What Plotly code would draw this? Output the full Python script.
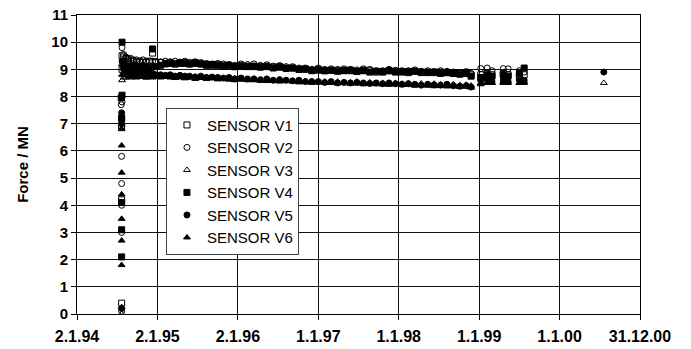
import plotly.graph_objects as go

# ---- data (decimal years, force in MN) ----
tick_years = [1994, 1995, 1996, 1997, 1998, 1999, 2000, 2001]
tick_labels = ["2.1.94", "2.1.95", "2.1.96", "1.1.97", "1.1.98", "1.1.99", "1.1.00", "31.12.00"]

T_main = [1994.58, 1994.61, 1994.64, 1994.67, 1994.70, 1994.74, 1994.78, 1994.82, 1994.86, 1994.90, 1994.94, 1994.98,
          1995.04, 1995.10, 1995.16, 1995.22, 1995.28, 1995.34, 1995.40, 1995.47, 1995.54, 1995.61, 1995.68, 1995.75, 1995.82, 1995.89, 1995.96,
          1996.04, 1996.12, 1996.20, 1996.28, 1996.36, 1996.44, 1996.52, 1996.60, 1996.68, 1996.76, 1996.84, 1996.92,
          1997.00, 1997.08, 1997.16, 1997.24, 1997.32, 1997.40, 1997.48, 1997.56, 1997.64, 1997.72, 1997.80, 1997.88, 1997.96,
          1998.04, 1998.12, 1998.20, 1998.28, 1998.36, 1998.44, 1998.52, 1998.60, 1998.68, 1998.76, 1998.84, 1998.90]
T_late = [1999.02, 1999.10, 1999.16, 1999.30, 1999.36, 1999.50, 1999.56]

# initial load-up (all at the same installation date)
rise_v1_t = [1994.555, 1994.555, 1994.555, 1994.555, 1994.56, 1994.56]
rise_v1 = [0.4, 4.2, 6.9, 7.2, 9.0, 9.5]
rise_v2_t = [1994.555, 1994.555, 1994.555, 1994.555, 1994.555, 1994.555, 1994.55, 1994.56, 1994.56]
rise_v2 = [0.1, 3.0, 4.0, 4.8, 5.8, 6.9, 7.7, 7.8, 9.8]
rise_v3_t = [1994.555, 1994.555, 1994.56, 1994.56]
rise_v3 = [0.0, 7.0, 8.6, 9.2]
rise_v4_t = [1994.555, 1994.555, 1994.555, 1994.555, 1994.55, 1994.56, 1994.56]
rise_v4 = [2.1, 3.1, 4.1, 7.2, 7.95, 8.05, 10.0]
rise_v5_t = [1994.555, 1994.555, 1994.555, 1994.56]
rise_v5 = [0.2, 7.0, 7.4, 9.3]
rise_v6_t = [1994.555, 1994.555, 1994.555, 1994.555, 1994.555, 1994.555, 1994.555, 1994.555, 1994.56]
rise_v6 = [0.25, 1.8, 2.7, 3.5, 4.4, 5.2, 6.2, 6.8, 8.8]

v1 = [9.45, 9.4, 9.35, 9.3, 9.3, 9.25, 9.3, 9.25, 9.25, 9.3, 9.6, 9.25,
      9.25, 9.22, 9.25, 9.2, 9.22, 9.25, 9.2, 9.22, 9.2, 9.18, 9.15, 9.17, 9.15, 9.12, 9.1,
      9.15, 9.12, 9.1, 9.1, 9.12, 9.08, 9.1, 9.05, 9.05, 9.0, 9.0, 8.97,
      9.0, 8.95, 8.97, 8.95, 8.97, 8.95, 8.93, 8.97, 8.95, 8.9, 8.92, 8.95, 8.92,
      8.9, 8.92, 8.93, 8.88, 8.9, 8.88, 8.9, 8.88, 8.85, 8.85, 8.87, 8.8]
v2 = [9.55, 9.45, 9.4, 9.4, 9.35, 9.35, 9.3, 9.35, 9.3, 9.3, 9.3, 9.3,
      9.28, 9.3, 9.28, 9.3, 9.27, 9.3, 9.26, 9.28, 9.25, 9.22, 9.2, 9.22, 9.2, 9.18, 9.15,
      9.2, 9.18, 9.2, 9.15, 9.17, 9.12, 9.14, 9.1, 9.1, 9.05, 9.05, 9.0,
      9.05, 9.0, 9.02, 9.0, 9.02, 9.0, 8.98, 9.02, 9.0, 8.95, 8.95, 9.0, 8.97,
      8.95, 8.95, 8.98, 8.93, 8.95, 8.92, 8.95, 8.93, 8.9, 8.88, 8.92, 8.85]
v3 = [8.7, 8.7, 8.75, 8.7, 8.72, 8.7, 8.75, 8.72, 8.7, 8.75, 8.72, 8.75,
      8.72, 8.75, 8.73, 8.75, 8.72, 8.75, 8.7, 8.73, 8.7, 8.72, 8.68, 8.7, 8.68, 8.65, 8.67,
      8.65, 8.63, 8.65, 8.6, 8.62, 8.6, 8.62, 8.58, 8.57, 8.55, 8.57, 8.55,
      8.53, 8.55, 8.52, 8.55, 8.5, 8.52, 8.55, 8.5, 8.52, 8.48, 8.5, 8.48, 8.5,
      8.47, 8.5, 8.45, 8.48, 8.45, 8.47, 8.45, 8.43, 8.45, 8.42, 8.43, 8.4]
v4 = [9.15, 9.1, 9.05, 9.1, 9.05, 9.1, 9.05, 9.1, 9.1, 9.05, 9.75, 9.1,
      9.15, 9.2, 9.22, 9.2, 9.25, 9.22, 9.2, 9.25, 9.2, 9.15, 9.18, 9.15, 9.12, 9.15, 9.1,
      9.12, 9.1, 9.12, 9.08, 9.1, 9.05, 9.08, 9.03, 9.05, 9.0, 9.02, 8.95,
      8.97, 8.95, 8.97, 8.93, 8.95, 8.97, 8.92, 8.95, 8.9, 8.93, 8.9, 8.95, 8.9,
      8.92, 8.88, 8.93, 8.9, 8.88, 8.9, 8.85, 8.88, 8.85, 8.82, 8.85, 8.75]
v5 = [9.0, 8.95, 8.95, 8.9, 8.95, 8.9, 8.9, 8.85, 8.9, 8.85, 8.85, 8.8,
      8.8, 8.78, 8.8, 8.75, 8.78, 8.75, 8.75, 8.72, 8.75, 8.7, 8.72, 8.7, 8.68, 8.7, 8.65,
      8.68, 8.65, 8.65, 8.62, 8.65, 8.6, 8.62, 8.6, 8.58, 8.6, 8.55, 8.55,
      8.55, 8.52, 8.55, 8.5, 8.52, 8.5, 8.52, 8.5, 8.48, 8.5, 8.47, 8.5, 8.47,
      8.45, 8.47, 8.45, 8.42, 8.45, 8.43, 8.42, 8.45, 8.4, 8.38, 8.4, 8.35]
v6 = [8.85, 8.8, 8.8, 8.75, 8.78, 8.75, 8.72, 8.75, 8.7, 8.72, 8.7, 8.72,
      8.7, 8.72, 8.7, 8.68, 8.7, 8.67, 8.7, 8.65, 8.68, 8.65, 8.67, 8.63, 8.65, 8.62, 8.6,
      8.62, 8.6, 8.6, 8.58, 8.57, 8.58, 8.55, 8.57, 8.55, 8.52, 8.53, 8.5,
      8.52, 8.5, 8.5, 8.48, 8.5, 8.47, 8.48, 8.45, 8.47, 8.45, 8.45, 8.43, 8.45,
      8.42, 8.43, 8.4, 8.42, 8.4, 8.38, 8.4, 8.37, 8.38, 8.35, 8.37, 8.33]

late_v1 = [8.8, 8.85, 8.8, 8.85, 8.8, 8.75, 8.8]
late_v2 = [9.03, 9.05, 8.95, 9.03, 9.02, 8.95, 8.9]
late_v3 = [8.5, 8.55, 8.5, 8.55, 8.5, 8.5, 8.55]
late_v4 = [8.7, 8.8, 8.75, 8.8, 8.75, 8.85, 9.05]
late_v5 = [8.6, 8.65, 8.55, 8.6, 8.55, 8.6, 8.6]
late_v6 = [8.45, 8.5, 8.5, 8.5, 8.55, 8.5, 8.5]

last_t = [2000.55]
last_v3 = [8.5]
last_v5 = [8.9]

series = [
    ("SENSOR V1", "square-open", rise_v1_t + T_main + T_late, rise_v1 + v1 + late_v1),
    ("SENSOR V2", "circle-open", rise_v2_t + T_main + T_late, rise_v2 + v2 + late_v2),
    ("SENSOR V3", "triangle-up-open", rise_v3_t + T_main + T_late + last_t, rise_v3 + v3 + late_v3 + last_v3),
    ("SENSOR V4", "square", rise_v4_t + T_main + T_late, rise_v4 + v4 + late_v4),
    ("SENSOR V5", "circle", rise_v5_t + T_main + T_late + last_t, rise_v5 + v5 + late_v5 + last_v5),
    ("SENSOR V6", "triangle-up", rise_v6_t + T_main + T_late, rise_v6 + v6 + late_v6),
]

fig = go.Figure()
for name, sym, xs, ys in series:
    fig.add_trace(go.Scatter(
        x=xs, y=ys, mode="markers", name=name,
        marker=dict(symbol=sym, size=6, color="black", line=dict(color="black", width=1)),
    ))

font_family = "Arial, Liberation Sans, sans-serif"
fig.update_layout(
    width=691, height=349,
    margin=dict(l=77, r=51, t=15, b=35, autoexpand=False),
    paper_bgcolor="white", plot_bgcolor="white",
    font=dict(family=font_family, color="black"),
    showlegend=True,
    legend=dict(
        x=0.158, y=0.69, xanchor="left", yanchor="top",
        bgcolor="white", bordercolor="#444", borderwidth=1,
        font=dict(size=15, family=font_family, color="black"),
        itemwidth=30, tracegroupgap=0,
    ),
    xaxis=dict(
        range=[1994, 2001], tickmode="array", tickvals=tick_years, ticktext=tick_labels,
        automargin=False,
        showgrid=True, gridcolor="#111", gridwidth=1, zeroline=False,
        showline=True, linecolor="black", linewidth=1, mirror=True,
        ticks="outside", ticklen=5, tickcolor="black", ticklabelstandoff=3,
        tickfont=dict(size=16, family=font_family, color="black", weight="bold"),
    ),
    yaxis=dict(
        range=[0, 11], tickmode="array", tickvals=list(range(0, 12)),
        automargin=False,
        showgrid=True, gridcolor="#111", gridwidth=1, zeroline=False,
        showline=True, linecolor="black", linewidth=1, mirror=True,
        ticks="outside", ticklen=5, tickcolor="black",
        tickfont=dict(size=15, family=font_family, color="black", weight="bold"),
        title=dict(text="Force / MN", font=dict(size=15, family=font_family, color="black", weight="bold"), standoff=19),
    ),
)

fig.write_html("out.html")
